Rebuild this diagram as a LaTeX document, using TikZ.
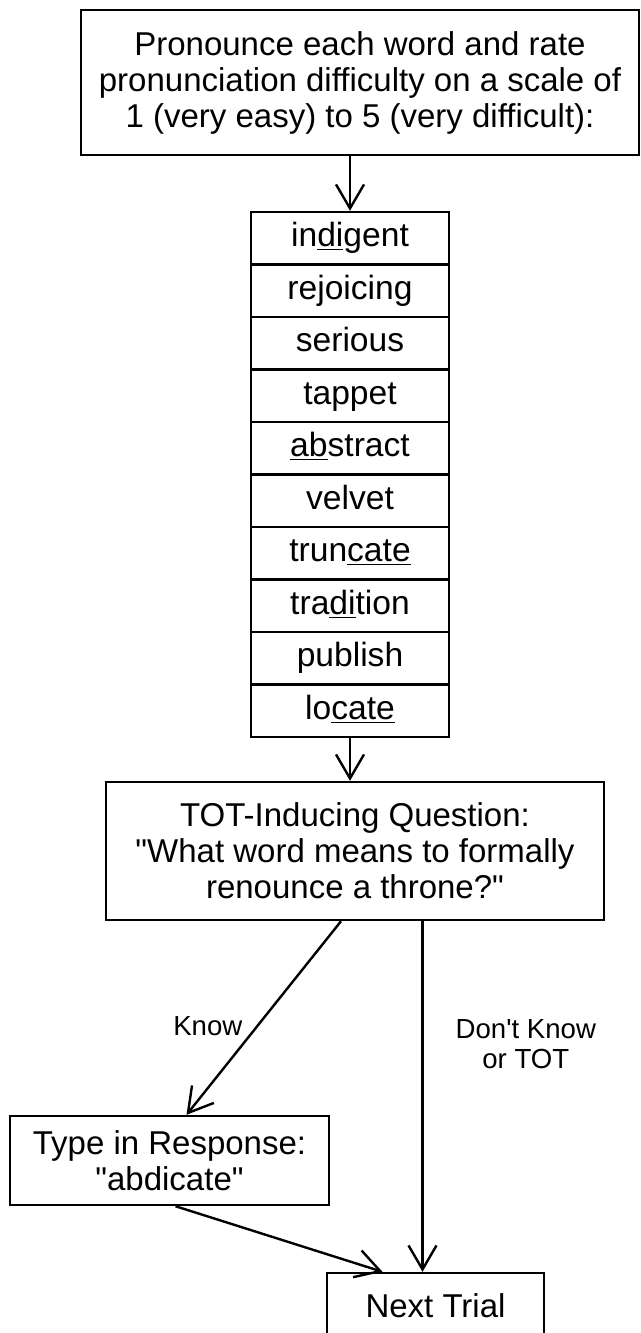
\documentclass[tikz,border=0pt]{standalone}
\usepackage{fontspec}
\setmainfont{Liberation Sans}
\usetikzlibrary{arrows.meta,calc}
\tikzset{
  textbox/.style={draw,line width=1.2pt,align=center,inner sep=0pt,
    font=\fontsize{16.5}{18}\selectfont},
  wordbox/.style={draw,line width=1.2pt,minimum width=99pt,minimum height=26.25pt,
    inner sep=0pt,text height=12pt,text depth=3.5pt,font=\fontsize{16.8}{18}\selectfont},
  flow/.style={line width=1.2pt,-{Straight Barb[length=12pt,width=14pt]}},
  branchlabel/.style={inner sep=0pt,align=center,font=\fontsize{13.8}{15}\selectfont}
}
\begin{document}
\begin{tikzpicture}[x=0.5pt,y=-0.5pt]
            \useasboundingbox (0,0) rectangle (641,1333);
            \node[textbox,minimum width=279pt,minimum height=72.5pt] (top) at (360,82.5)
              {Pronounce each word and rate\\pronunciation difficulty on a scale of\\1 (very easy) to 5 (very difficult):};
            \foreach \w [count=\i] in {in\underline{di}gent,rejoicing,serious,tappet,\underline{ab}stract,
                velvet,trun\underline{cate},tra\underline{di}tion,publish,lo\underline{cate}}
              \node[wordbox] (w\i) at (350,{212+52.5*(\i-0.5)}) {\w};
            \node[textbox,minimum width=249pt,minimum height=69pt] (tot) at (355,851)
              {TOT-Inducing Question:\\\textquotedbl What word means to formally\\renounce a throne?\textquotedbl};
            \node[textbox,minimum width=159.5pt,minimum height=44.5pt] (type) at (169.5,1160.5)
              {Type in Response:\\\textquotedbl abdicate\textquotedbl};
            \node[textbox,minimum width=108.5pt,minimum height=33pt] (next) at (435.5,1306)
              {Next Trial};
            \coordinate (knowend) at ($(type.north)+(17,0)$);
            \coordinate (dkend) at ($(next.north)+(-13,0)$);
            \coordinate (typeend) at ($(next.north)+(-53,0)$);
            \draw[flow] (top.south -| w1.north) -- (w1.north);
            \draw[flow] (w10.south) -- (w10.south |- tot.north);
            \draw[flow] ($(tot.south)+(-14,0)$) -- node[branchlabel,pos=0.54,left=7pt]{Know} (knowend);
            \draw[flow] (tot.south -| dkend) -- node[branchlabel,pos=0.35,right=16pt]{Don\textquotesingle t Know\\or TOT} (dkend);
            \draw[flow] ($(type.south)+(6,0)$) -- (typeend);
            % \draw[red] (0,0) grid[step=50] (641,1333);
        \end{tikzpicture}
\end{document}
